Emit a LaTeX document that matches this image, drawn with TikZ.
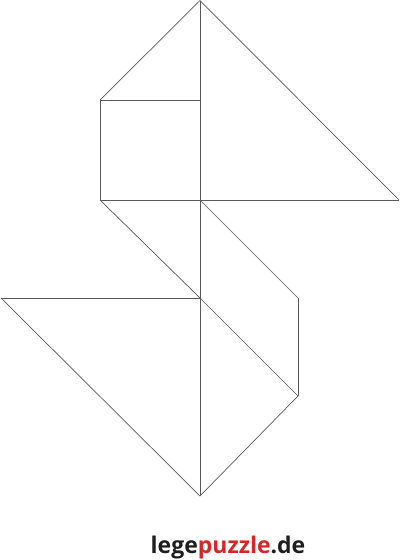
\documentclass[tikz,border=0pt]{standalone}
\usepackage{fontspec}
\newfontfamily\logofont{Open Sans}
\definecolor{logored}{RGB}{214,38,38}
\definecolor{logodark}{RGB}{30,30,30}

\begin{document}
\begin{tikzpicture}[x=1pt,y=-1pt]
\tikzset{kante/.style={draw=black!65, line width=0.7pt, line join=miter},
         logo/.style={font=\logofont\bfseries\fontsize{23}{26}\selectfont, text=logodark, inner sep=0pt, anchor=base}}
\useasboundingbox (0,0) rectangle (400,560);
\coordinate (P1) at (200,0.5);
\coordinate (P2) at (100,100);
\coordinate (P3) at (200,100);
\coordinate (P4) at (100,200);
\coordinate (P5) at (200,200);
\coordinate (P6) at (399,200);
\coordinate (P7) at (298,298);
\coordinate (P8) at (298,396);
\coordinate (P9) at (200,298);
\coordinate (P10) at (1,298);
\coordinate (P11) at (200,496);
\draw[kante] (P1) -- (P11);
\draw[kante] (P1) -- (P2);
\draw[kante] (P2) -- (P3);
\draw[kante] (P2) -- (P4);
\draw[kante] (P4) -- (P6);
\draw[kante] (P1) -- (P6);
\draw[kante] (P4) -- (P9);
\draw[kante] (P5) -- (P7);
\draw[kante] (P7) -- (P8);
\draw[kante] (P9) -- (P8);
\draw[kante] (P8) -- (P11);
\draw[kante] (P10) -- (P9);
\draw[kante] (P10) -- (P11);
\node[logo] (name) at (228,553) {lege\textcolor{logored}{puzzle}.de};
\end{tikzpicture}
\end{document}
